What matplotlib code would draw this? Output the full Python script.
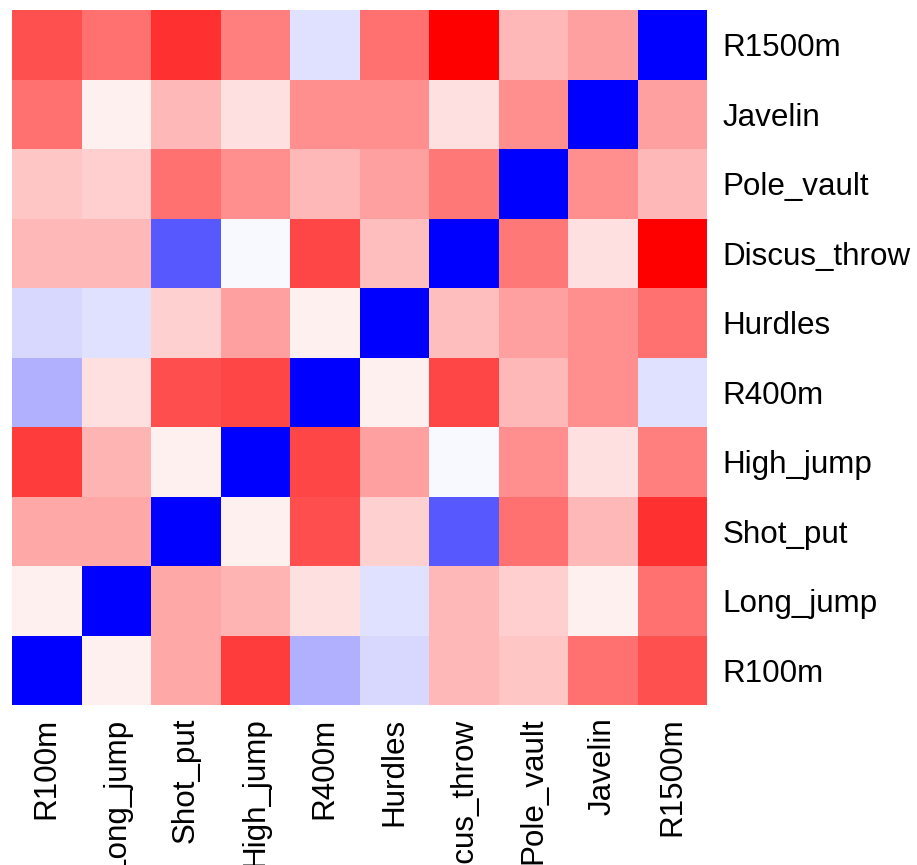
import numpy as np
import matplotlib.pyplot as plt
from matplotlib.colors import LinearSegmentedColormap

plt.rcParams['font.family'] = ['Liberation Sans', 'DejaVu Sans']

events = ['R100m', 'Long_jump', 'Shot_put', 'High_jump', 'R400m',
          'Hurdles', 'Discus_throw', 'Pole_vault', 'Javelin', 'R1500m']

# score matrix, rows/cols in the order of `events`
# (-1 = blue, 0 = white, +1 = red)
scores = [
    [-1.00,  0.06,  0.34,  0.76, -0.31, -0.15,  0.28,  0.22,  0.56,  0.68],
    [ 0.06, -1.00,  0.34,  0.29,  0.12, -0.12,  0.28,  0.19,  0.06,  0.56],
    [ 0.34,  0.34, -1.00,  0.06,  0.69,  0.18, -0.65,  0.56,  0.28,  0.81],
    [ 0.76,  0.29,  0.06, -1.00,  0.72,  0.37, -0.03,  0.44,  0.12,  0.50],
    [-0.31,  0.12,  0.69,  0.72, -1.00,  0.06,  0.72,  0.28,  0.44, -0.12],
    [-0.15, -0.12,  0.18,  0.37,  0.06, -1.00,  0.25,  0.37,  0.44,  0.56],
    [ 0.28,  0.28, -0.65, -0.03,  0.72,  0.25, -1.00,  0.53,  0.12,  1.00],
    [ 0.22,  0.19,  0.56,  0.44,  0.28,  0.37,  0.53, -1.00,  0.44,  0.28],
    [ 0.56,  0.06,  0.28,  0.12,  0.44,  0.44,  0.12,  0.44, -1.00,  0.37],
    [ 0.68,  0.56,  0.81,  0.50, -0.12,  0.56,  1.00,  0.28,  0.37, -1.00],
]

mat = np.array(scores)
cmap = LinearSegmentedColormap.from_list('bwr_r', ['#0000ff', '#ffffff', '#ff0000'])

fig = plt.figure(figsize=(9.17, 8.65), dpi=100)
ax = fig.add_axes([12 / 917, 160 / 865, 695 / 917, 695 / 865])
ax.pcolormesh(mat, cmap=cmap, vmin=-1, vmax=1)

n = len(events)
ax.set_xlim(0, n)
ax.set_ylim(0, n)
ax.set_xticks(np.arange(n) + 0.5)
ax.set_xticklabels(events, rotation=90, fontsize=22.6, va='top')
ax.set_yticks(np.arange(n) + 0.5)
ax.set_yticklabels(events, fontsize=22.6)
ax.yaxis.tick_right()
ax.tick_params(axis='y', length=0, pad=11)
ax.tick_params(axis='x', length=0, pad=9)
for s in ax.spines.values():
    s.set_visible(False)

fig.savefig('out.png', dpi=100)
